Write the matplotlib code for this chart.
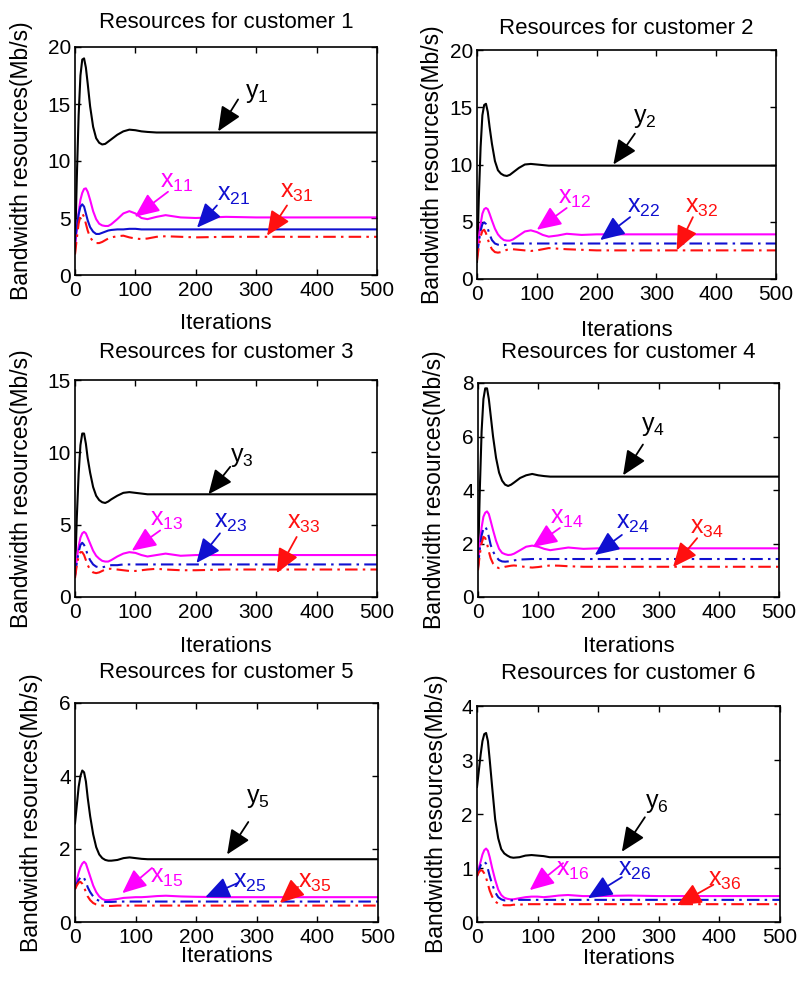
import matplotlib
matplotlib.use("Agg")
import matplotlib.pyplot as plt

plt.rcParams["font.family"] = ["Liberation Sans", "DejaVu Sans"]
plt.rcParams["mathtext.fontset"] = "custom"
plt.rcParams["mathtext.rm"] = "Liberation Sans"
plt.rcParams["mathtext.it"] = "Liberation Sans"

# ---------------- data ----------------
iterations = [0, 3, 6, 9, 12, 15, 18, 21, 25, 30, 35, 40, 45, 50, 55, 60,
              70, 80, 90, 100, 110, 120, 135, 150, 175, 200, 250, 300, 500]

c1_y = [2.0, 8.5, 14.0, 17.5, 18.9, 19.0, 18.2, 16.8, 14.8, 13.0, 12.0, 11.6, 11.45, 11.5, 11.7, 11.9,
        12.3, 12.6, 12.75, 12.7, 12.6, 12.55, 12.5, 12.5, 12.5, 12.5, 12.5, 12.5, 12.5]
c1_x1 = [2.5, 4.0, 5.5, 6.6, 7.2, 7.55, 7.6, 7.3, 6.6, 5.6, 4.9, 4.5, 4.35, 4.3, 4.3, 4.45,
         4.9, 5.4, 5.6, 5.4, 5.0, 4.9, 5.1, 5.25, 5.05, 5.0, 5.1, 5.05, 5.05]
c1_x2 = [3.0, 4.2, 5.3, 6.0, 6.2, 6.0, 5.4, 4.8, 4.2, 3.8, 3.6, 3.6, 3.7, 3.8, 3.9, 3.95,
         4.0, 4.0, 4.05, 4.05, 4.0, 4.0, 4.0, 4.0, 4.0, 4.0, 4.0, 4.0, 4.0]
c1_x3 = [1.8, 3.2, 4.5, 5.2, 5.4, 5.1, 4.5, 3.9, 3.3, 2.95, 2.8, 2.8, 2.9, 3.05, 3.2, 3.3,
         3.4, 3.45, 3.3, 3.2, 3.15, 3.2, 3.35, 3.4, 3.35, 3.3, 3.35, 3.35, 3.35]

c2_y = [1.5, 7.0, 11.5, 14.3, 15.2, 15.3, 14.6, 13.3, 11.8, 10.3, 9.5, 9.2, 9.05, 9.0, 9.1, 9.3,
        9.7, 10.0, 10.05, 10.0, 9.95, 9.9, 9.9, 9.9, 9.9, 9.9, 9.9, 9.9, 9.9]
c2_x1 = [2.0, 3.5, 4.8, 5.7, 6.1, 6.2, 6.1, 5.7, 5.1, 4.4, 3.9, 3.6, 3.4, 3.35, 3.35, 3.45,
         3.8, 4.15, 4.25, 4.1, 3.85, 3.7, 3.8, 3.95, 3.85, 3.9, 3.9, 3.9, 3.9]
c2_x2 = [2.0, 3.2, 4.2, 4.8, 4.95, 4.8, 4.4, 3.9, 3.4, 3.1, 3.0, 2.95, 2.95, 3.0, 3.05, 3.1,
         3.1, 3.1, 3.1, 3.1, 3.1, 3.1, 3.1, 3.1, 3.1, 3.1, 3.1, 3.1, 3.1]
c2_x3 = [1.6, 2.8, 3.7, 4.2, 4.3, 4.0, 3.5, 3.0, 2.6, 2.35, 2.3, 2.35, 2.45, 2.55, 2.6, 2.6,
         2.55, 2.5, 2.45, 2.5, 2.6, 2.7, 2.65, 2.6, 2.55, 2.5, 2.5, 2.5, 2.5]

c3_y = [1.5, 5.5, 8.5, 10.5, 11.3, 11.3, 10.6, 9.6, 8.6, 7.6, 7.0, 6.7, 6.55, 6.5, 6.6, 6.75,
        7.0, 7.2, 7.25, 7.2, 7.15, 7.1, 7.1, 7.1, 7.1, 7.1, 7.1, 7.1, 7.1]
c3_x1 = [1.5, 2.6, 3.5, 4.1, 4.4, 4.5, 4.4, 4.1, 3.7, 3.2, 2.85, 2.65, 2.5, 2.45, 2.45, 2.55,
         2.8, 3.0, 3.1, 3.05, 2.9, 2.8, 2.9, 3.0, 2.85, 2.9, 2.9, 2.9, 2.9]
c3_x2 = [1.5, 2.4, 3.1, 3.6, 3.75, 3.6, 3.3, 2.9, 2.55, 2.25, 2.1, 2.05, 2.05, 2.1, 2.15, 2.2,
         2.2, 2.25, 2.25, 2.25, 2.25, 2.25, 2.25, 2.25, 2.25, 2.25, 2.25, 2.25, 2.25]
c3_x3 = [1.3, 2.2, 2.8, 3.1, 3.1, 2.9, 2.55, 2.2, 1.9, 1.7, 1.65, 1.7, 1.8, 1.9, 1.95, 1.95,
         1.9, 1.85, 1.8, 1.8, 1.85, 1.9, 1.95, 1.9, 1.85, 1.85, 1.9, 1.9, 1.9]

c4_y = [1.2, 4.0, 6.2, 7.4, 7.8, 7.8, 7.4, 6.8, 6.0, 5.2, 4.65, 4.35, 4.2, 4.15, 4.2, 4.28,
        4.45, 4.55, 4.6, 4.55, 4.52, 4.5, 4.5, 4.5, 4.5, 4.5, 4.5, 4.5, 4.5]
c4_x1 = [1.2, 2.0, 2.6, 3.0, 3.15, 3.2, 3.1, 2.85, 2.5, 2.1, 1.8, 1.65, 1.6, 1.57, 1.58, 1.62,
         1.75, 1.88, 1.92, 1.88, 1.8, 1.75, 1.8, 1.85, 1.8, 1.82, 1.82, 1.82, 1.82]
c4_x2 = [1.1, 1.8, 2.3, 2.55, 2.63, 2.5, 2.25, 1.95, 1.7, 1.5, 1.38, 1.33, 1.32, 1.33, 1.35, 1.37,
         1.4, 1.41, 1.42, 1.42, 1.42, 1.42, 1.42, 1.42, 1.42, 1.42, 1.42, 1.42, 1.42]
c4_x3 = [1.0, 1.6, 2.0, 2.25, 2.2, 2.0, 1.7, 1.45, 1.25, 1.12, 1.08, 1.1, 1.13, 1.15, 1.17, 1.18,
         1.15, 1.12, 1.1, 1.12, 1.15, 1.18, 1.17, 1.15, 1.13, 1.13, 1.13, 1.13, 1.13]

c5_y = [2.7, 3.2, 3.7, 4.0, 4.15, 4.1, 3.85, 3.4, 2.9, 2.4, 2.05, 1.85, 1.75, 1.7, 1.68, 1.68,
        1.7, 1.75, 1.77, 1.75, 1.73, 1.72, 1.72, 1.72, 1.72, 1.72, 1.72, 1.72, 1.72]
c5_x1 = [0.95, 1.15, 1.35, 1.5, 1.6, 1.65, 1.6, 1.45, 1.25, 1.0, 0.82, 0.7, 0.63, 0.6, 0.6, 0.61,
         0.63, 0.66, 0.67, 0.68, 0.68, 0.69, 0.71, 0.72, 0.7, 0.69, 0.68, 0.68, 0.68]
c5_x2 = [0.9, 1.05, 1.15, 1.22, 1.25, 1.2, 1.1, 0.95, 0.82, 0.7, 0.62, 0.58, 0.56, 0.55, 0.55, 0.55,
         0.56, 0.56, 0.56, 0.56, 0.56, 0.56, 0.56, 0.56, 0.56, 0.56, 0.56, 0.56, 0.56]
c5_x3 = [0.9, 1.0, 1.08, 1.1, 1.05, 0.95, 0.82, 0.7, 0.6, 0.52, 0.48, 0.46, 0.45, 0.44, 0.44, 0.44,
         0.45, 0.45, 0.45, 0.45, 0.45, 0.45, 0.45, 0.45, 0.45, 0.45, 0.45, 0.45, 0.45]

c6_y = [2.5, 2.8, 3.1, 3.35, 3.48, 3.5, 3.35, 3.0, 2.5, 1.9, 1.55, 1.35, 1.27, 1.23, 1.2, 1.19,
        1.2, 1.23, 1.24, 1.23, 1.22, 1.2, 1.2, 1.2, 1.2, 1.2, 1.2, 1.2, 1.2]
c6_x1 = [0.85, 1.0, 1.12, 1.25, 1.33, 1.36, 1.32, 1.2, 1.0, 0.78, 0.6, 0.5, 0.45, 0.43, 0.42, 0.42,
         0.44, 0.46, 0.47, 0.47, 0.46, 0.47, 0.49, 0.5, 0.48, 0.48, 0.49, 0.48, 0.48]
c6_x2 = [0.85, 0.95, 1.05, 1.1, 1.12, 1.08, 0.98, 0.85, 0.7, 0.55, 0.46, 0.42, 0.4, 0.4, 0.4, 0.4,
         0.41, 0.41, 0.41, 0.41, 0.41, 0.41, 0.41, 0.41, 0.41, 0.41, 0.41, 0.41, 0.41]
c6_x3 = [0.85, 0.92, 0.96, 0.95, 0.9, 0.82, 0.7, 0.58, 0.47, 0.38, 0.34, 0.32, 0.31, 0.31, 0.31, 0.32,
         0.32, 0.33, 0.33, 0.33, 0.33, 0.33, 0.33, 0.33, 0.33, 0.33, 0.33, 0.33, 0.33]

titles = ["Resources for customer %d" % k for k in range(1, 7)]
y_limits = [20, 20, 15, 8, 6, 4]
y_steps = [5, 5, 5, 2, 2, 1]
x_ticks = [0, 100, 200, 300, 400, 500]
series = [
    (c1_y, c1_x1, c1_x2, c1_x3),
    (c2_y, c2_x1, c2_x2, c2_x3),
    (c3_y, c3_x1, c3_x2, c3_x3),
    (c4_y, c4_x1, c4_x2, c4_x3),
    (c5_y, c5_x1, c5_x2, c5_x3),
    (c6_y, c6_x1, c6_x2, c6_x3),
]

# ---------------- layout (pixels, y measured from the top) ----------------
W, H = 801, 983
# left, right, top, bottom of each axes box
boxes = [(75, 377, 47, 275), (477, 776, 50, 279),
         (75, 377, 380, 597), (478, 779, 383, 597),
         (75, 378, 703, 922), (477, 780, 706, 922)]
title_y = [22, 28, 353, 352, 673, 673]
xlabel_y = [323, 331, 647, 647, 957, 958]
ylabel_x = [22, 433, 22, 435, 32, 437]

BLACK, MAGENTA, BLUE, RED = "#000000", "#ff00ff", "#1010d0", "#ff1010"
DASHDOT = (0, (6, 2.5, 1.2, 2.5))

# annotation label (text center), arrow tail, arrow tip in data coords
annotations = [
    [("y", 1, (301, 16.0), (270, 15.4), (237, 12.6)),
     ("x", 11, (169, 8.2), (154, 7.3), (99, 5.1)),
     ("x", 21, (262, 7.0), (235, 6.1), (202, 4.15)),
     ("x", 31, (367, 7.3), (351, 6.1), (318, 3.45))],
    [("y", 2, (281, 14.1), (264, 12.7), (228, 10.0)),
     ("x", 12, (164, 7.1), (150, 6.2), (100, 4.3)),
     ("x", 22, (278, 6.3), (256, 5.4), (206, 3.4)),
     ("x", 32, (376, 6.3), (361, 5.4), (334, 2.5))],
    [("y", 3, (276, 9.7), (257, 9.0), (221, 7.1)),
     ("x", 13, (152, 5.3), (141, 4.6), (94, 3.2)),
     ("x", 23, (257, 5.2), (240, 4.4), (201, 2.35)),
     ("x", 33, (378, 5.1), (367, 4.15), (334, 1.65))],
    [("y", 4, (291, 6.4), (274, 5.7), (241, 4.55)),
     ("x", 14, (148, 2.95), (136, 2.58), (91, 1.87)),
     ("x", 24, (258, 2.77), (239, 2.32), (194, 1.57)),
     ("x", 34, (380, 2.58), (364, 2.2), (324, 1.12))],
    [("y", 5, (302, 3.4), (286, 2.74), (251, 1.85)),
     ("x", 15, (152, 1.23), (127, 1.48), (78, 0.79)),
     ("x", 25, (289, 1.1), (269, 1.07), (215, 0.68)),
     ("x", 35, (396, 1.1), (368, 0.96), (338, 0.52))],
    [("y", 6, (297, 2.2), (277, 1.94), (239, 1.3)),
     ("x", 16, (158, 0.96), (142, 1.09), (87, 0.59)),
     ("x", 26, (261, 0.96), (239, 0.83), (183, 0.44)),
     ("x", 36, (409, 0.78), (390, 0.69), (330, 0.31))],
]

fig = plt.figure(figsize=(W / 100, H / 100), dpi=100)

for i in range(6):
    L, R, T, B = boxes[i]
    ax = fig.add_axes([L / W, 1 - B / H, (R - L) / W, (B - T) / H])
    y, x1, x2, x3 = series[i]
    ax.plot(iterations, y, color=BLACK, lw=1.5)
    ax.plot(iterations, x1, color=MAGENTA, lw=1.5)
    ax.plot(iterations, x2, color=BLUE, lw=1.5,
            linestyle="-" if i == 0 else DASHDOT)
    ax.plot(iterations, x3, color=RED, lw=1.5, linestyle=DASHDOT)

    ax.set_xlim(0, 500)
    ax.set_ylim(0, y_limits[i])
    ax.set_xticks(x_ticks)
    ax.set_yticks(list(range(0, y_limits[i] + 1, y_steps[i])))
    ax.tick_params(direction="in", top=True, right=True, length=4, width=1,
                   labelsize=15)
    ax.tick_params(axis="x", pad=4)
    ax.tick_params(axis="y", pad=3)
    for s in ax.spines.values():
        s.set_linewidth(1.2)

    hpx, wpx = B - T, R - L
    ax.set_title(titles[i], fontsize=16, y=1 + (T - title_y[i]) / hpx,
                 va="center", pad=0)
    ax.set_xlabel("Iterations", fontsize=16)
    ax.xaxis.set_label_coords(0.5, -(xlabel_y[i] - B) / hpx)
    ax.xaxis.label.set_va("center")
    ax.set_ylabel("Bandwidth resources(Mb/s)", fontsize=16.5)
    ax.yaxis.set_label_coords(-(L - ylabel_x[i]) / wpx, 0.5)
    ax.yaxis.label.set_va("center")

    colors = [BLACK, MAGENTA, BLUE, RED]
    for (sym, sub, tpos, tail, tip), c in zip(annotations[i], colors):
        ax.annotate("", xy=tip, xytext=tail,
                    arrowprops=dict(arrowstyle="-|>,head_length=0.75,head_width=0.33",
                                    color=c, lw=1.3, shrinkA=0, shrinkB=0,
                                    mutation_scale=20))
        ax.text(tpos[0], tpos[1], r"$\mathregular{%s_{%d}}$" % (sym, sub),
                color=c, fontsize=18, ha="center", va="center")

fig.savefig("out.png", dpi=100)
